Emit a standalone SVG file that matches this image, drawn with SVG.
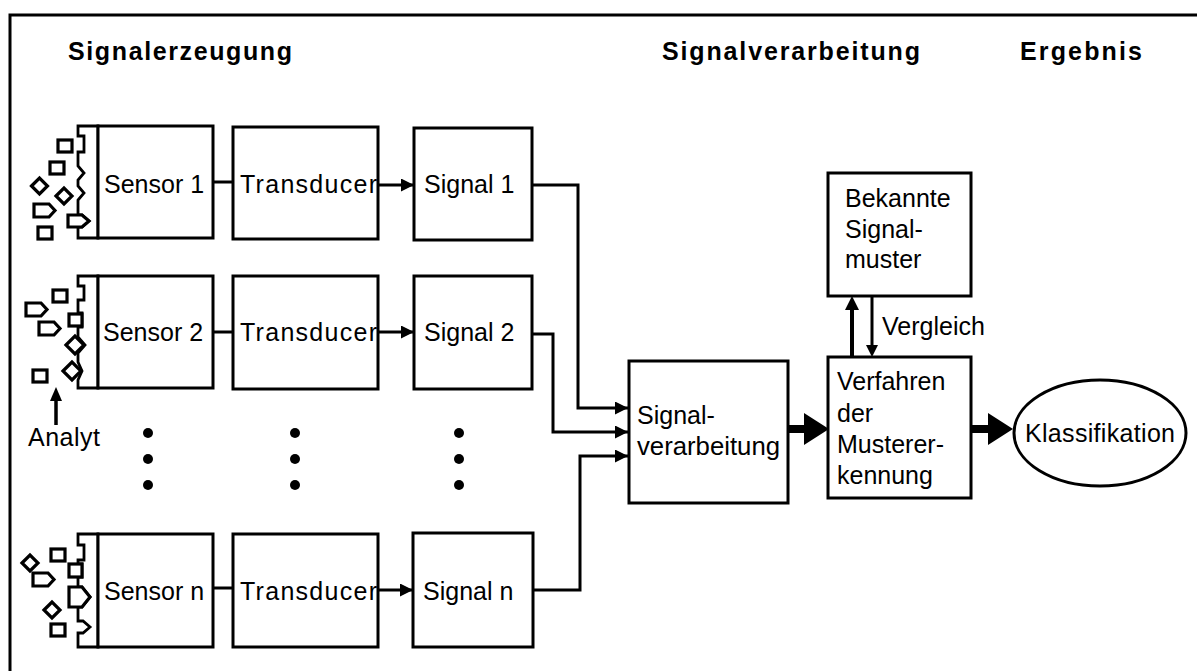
<svg xmlns="http://www.w3.org/2000/svg" xmlns:xlink="http://www.w3.org/1999/xlink" width="1197" height="671" viewBox="0 0 1197 671">
  <style>
    .box { fill: #fff; stroke: #000; stroke-width: 3; }
    .mem { fill: #fff; stroke: #000; stroke-width: 2.8; stroke-linejoin: miter; }
    .an { fill: #fff; stroke: #000; stroke-width: 3.2; stroke-linejoin: miter; }
    .ln { fill: none; stroke: #000; stroke-width: 3; }
    .t { font-family: "Liberation Sans", Arial, sans-serif; font-size: 25px; fill: #000; }
    .h { font-family: "Liberation Sans", Arial, sans-serif; font-size: 25px; font-weight: bold; fill: #000; }
  </style>
  <defs>
    <marker id="arr" markerUnits="userSpaceOnUse" markerWidth="14" markerHeight="14" refX="13" refY="6.5" orient="auto">
      <path d="M0,0 L13,6.5 L0,13 Z" fill="#000"/>
    </marker>
    <!-- analyte shapes -->
    <rect id="sq" class="an" x="0" y="0" width="14" height="12"/>
    <path id="dia" class="an" d="M-8,0 L0,-8 L8,0 L0,8 Z"/>
    <path id="pent" class="an" d="M0,0 H15 L21,6.5 L15,13 H0 Z"/>
  </defs>

  <!-- outer frame -->
  <rect x="10" y="15" width="1200" height="680" fill="none" stroke="#000" stroke-width="3"/>

  <!-- section headings -->
  <text class="h" x="68" y="60" textLength="224" lengthAdjust="spacing">Signalerzeugung</text>
  <text class="h" x="662" y="60" textLength="258" lengthAdjust="spacing">Signalverarbeitung</text>
  <text class="h" x="1020" y="60" textLength="122" lengthAdjust="spacing">Ergebnis</text>

  <!-- connectors -->
  <g id="connectors">
    <!-- sensor to transducer -->
    <line class="ln" x1="213" y1="182" x2="233" y2="182"/>
    <line class="ln" x1="213" y1="332" x2="233" y2="332"/>
    <line class="ln" x1="213" y1="588" x2="233" y2="588"/>
    <!-- transducer to signal -->
    <line class="ln" x1="378" y1="185" x2="414" y2="185" marker-end="url(#arr)"/>
    <line class="ln" x1="378" y1="332" x2="414" y2="332" marker-end="url(#arr)"/>
    <line class="ln" x1="378" y1="590" x2="413" y2="590" marker-end="url(#arr)"/>
    <!-- signals to processing -->
    <polyline class="ln" points="532,185 578,185 578,408 628,408" marker-end="url(#arr)"/>
    <polyline class="ln" points="532,334 553,334 553,432 628,432" marker-end="url(#arr)"/>
    <polyline class="ln" points="533,590 580,590 580,456 628,456" marker-end="url(#arr)"/>
    <!-- processing to pattern recognition -->
    <rect x="788" y="425" width="18" height="8" fill="#000"/>
    <polygon points="804,413 829,429 804,445" fill="#000"/>
    <!-- pattern recognition to classification -->
    <rect x="971" y="425" width="19" height="8" fill="#000"/>
    <polygon points="988,413 1013,429 988,445" fill="#000"/>
    <!-- comparison with known patterns -->
    <line x1="852" y1="357" x2="852" y2="306" stroke="#000" stroke-width="4"/>
    <polygon points="845,310 852,296 859,310" fill="#000"/>
    <line x1="872" y1="296" x2="872" y2="347" stroke="#000" stroke-width="3"/>
    <polygon points="866,345 872,357 878,345" fill="#000"/>
    <text class="t" x="882" y="335">Vergleich</text>
    <!-- analyte pointer -->
    <line x1="56" y1="425" x2="56" y2="398" stroke="#000" stroke-width="3.5"/>
    <polygon points="50,401 56,387 62,401" fill="#000"/>
  </g>

  <!-- sensor 1 -->
  <g id="sensor1">
    <path class="mem" d="M98,126 H78 V136 H84 V152 H78 V166 L84,173 L78,180 V186 L84,193 L78,200 V215 H82 L89,221 L82,227 H78 V238 H98 Z"/>
    <rect class="box" x="98" y="126" width="115" height="112"/>
    <use href="#sq" x="58" y="140"/>
    <use href="#sq" x="50" y="162"/>
    <use href="#dia" x="39.5" y="186"/>
    <use href="#dia" x="64" y="196"/>
    <use href="#pent" x="34" y="204"/>
    <path class="an" d="M68,215 H82 L89,221 L82,227 H68 Z"/>
    <use href="#sq" x="38" y="227"/>
    <text class="t" x="104" y="193">Sensor 1</text>
  </g>
  <g id="transducer1">
    <rect class="box" x="233" y="127" width="145" height="112"/>
    <text class="t" x="240" y="193" textLength="137" lengthAdjust="spacing">Transducer</text>
  </g>
  <g id="signal1">
    <rect class="box" x="414" y="128" width="118" height="112"/>
    <text class="t" x="424" y="193">Signal 1</text>
  </g>

  <!-- sensor 2 -->
  <g id="sensor2">
    <path class="mem" d="M98,276 H78 V286 H84 V300 H78 V313 H82 V327 H78 V337 L85,345 L78,353 V362 L82,371 L78,380 V388 H98 Z"/>
    <rect class="box" x="98" y="276" width="115" height="112"/>
    <use href="#sq" x="53" y="290"/>
    <use href="#pent" x="26" y="303"/>
    <use href="#pent" x="39" y="322"/>
    <rect class="an" x="69" y="314" width="13" height="12"/>
    <path class="an" d="M66,345 L75,336 L84,345 L75,354 Z"/>
    <path class="an" d="M63,371 L72,362 L81,371 L72,380 Z"/>
    <use href="#sq" x="33" y="370"/>
    <text class="t" x="103" y="341">Sensor 2</text>
  </g>
  <g id="transducer2">
    <rect class="box" x="233" y="276" width="145" height="113"/>
    <text class="t" x="240" y="341" textLength="137" lengthAdjust="spacing">Transducer</text>
  </g>
  <g id="signal2">
    <rect class="box" x="414" y="276" width="118" height="113"/>
    <text class="t" x="424" y="341">Signal 2</text>
  </g>

  <!-- analyte label -->
  <g id="analyt">
    <text class="t" x="28" y="446" textLength="72" lengthAdjust="spacing">Analyt</text>
  </g>

  <!-- ellipsis dots -->
  <g id="dots">
    <circle cx="148" cy="433" r="5"/>
    <circle cx="148" cy="459" r="5"/>
    <circle cx="148" cy="485" r="5"/>
    <circle cx="295" cy="433" r="5"/>
    <circle cx="295" cy="459" r="5"/>
    <circle cx="295" cy="485" r="5"/>
    <circle cx="459" cy="433" r="5"/>
    <circle cx="459" cy="459" r="5"/>
    <circle cx="459" cy="485" r="5"/>
  </g>

  <!-- sensor n -->
  <g id="sensorN">
    <path class="mem" d="M98,534 H78 V545 H84 V560 H78 V564 H82 V577 H78 V587 H82 L90,597 L82,607 H78 V621 H83 L90,627 L83,633 H78 V647 H98 Z"/>
    <rect class="box" x="98" y="534" width="115" height="113"/>
    <use href="#dia" x="30" y="563"/>
    <use href="#sq" x="51" y="549"/>
    <rect class="an" x="69" y="564" width="13" height="13"/>
    <use href="#pent" x="33" y="573"/>
    <path class="an" d="M69,587 H82 L90,597 L82,607 H69 Z"/>
    <use href="#dia" x="52" y="610"/>
    <use href="#sq" x="51" y="624"/>
    <text class="t" x="104" y="600">Sensor n</text>
  </g>
  <g id="transducerN">
    <rect class="box" x="233" y="534" width="145" height="113"/>
    <text class="t" x="240" y="600" textLength="137" lengthAdjust="spacing">Transducer</text>
  </g>
  <g id="signalN">
    <rect class="box" x="413" y="533" width="120" height="114"/>
    <text class="t" x="423" y="600">Signal n</text>
  </g>

  <!-- processing -->
  <g id="verarbeitung">
    <rect class="box" x="629" y="361" width="159" height="142"/>
    <text class="t" x="637" y="424">Signal-</text>
    <text class="t" x="637" y="455" textLength="143" lengthAdjust="spacingAndGlyphs">verarbeitung</text>
  </g>

  <!-- known patterns -->
  <g id="bekannte">
    <rect class="box" x="828" y="173" width="143" height="123"/>
    <text class="t" x="845" y="207">Bekannte</text>
    <text class="t" x="845" y="238">Signal-</text>
    <text class="t" x="845" y="268">muster</text>
  </g>

  <!-- pattern recognition -->
  <g id="verfahren">
    <rect class="box" x="828" y="357" width="143" height="141"/>
    <text class="t" x="837" y="390">Verfahren</text>
    <text class="t" x="837" y="422">der</text>
    <text class="t" x="837" y="453">Musterer-</text>
    <text class="t" x="837" y="484">kennung</text>
  </g>

  <!-- classification -->
  <g id="klassifikation">
    <ellipse cx="1100" cy="433" rx="86" ry="53" fill="#fff" stroke="#000" stroke-width="3"/>
    <text class="t" x="1025" y="442" textLength="150" lengthAdjust="spacing">Klassifikation</text>
  </g>
</svg>
